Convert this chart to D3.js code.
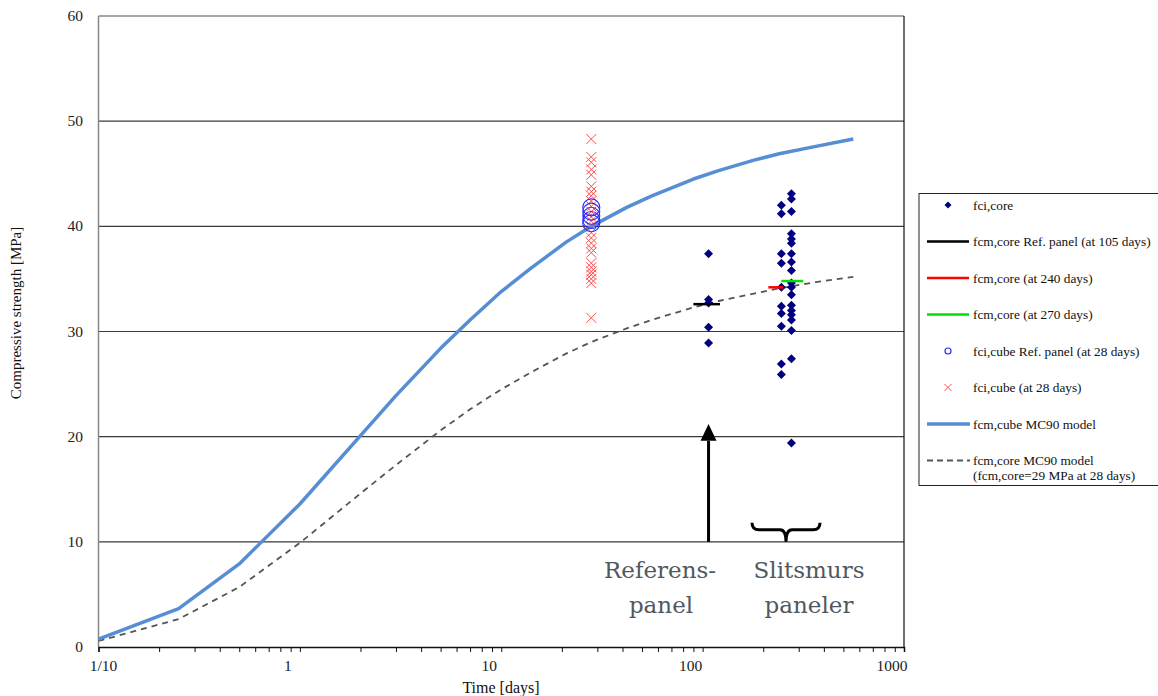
<!DOCTYPE html>
<html>
<head>
<meta charset="utf-8">
<script src="https://cdn.jsdelivr.net/npm/d3@7"></script>
<style>
  body { margin: 0; background: #fff; }
  svg text { font-family: "Liberation Serif", "Times New Roman", serif; }
  svg text.note { font-family: "DejaVu Serif", serif; font-size: 23px; fill: #505860; }
</style>
</head>
<body>
<div id="chart"></div>
<script>
// Model curves
const modelDays = [0.1, 0.25, 0.5, 1, 2, 3, 5, 7, 10, 14, 21, 28, 42, 56, 90, 120, 180, 240, 365, 560];
const cubeModel = [0.75, 3.65, 7.9, 13.6, 20.1, 23.9, 28.4, 31.1, 33.8, 36.0, 38.5, 40.0, 41.8, 42.9, 44.5, 45.3, 46.3, 46.9, 47.6, 48.3];
const coreModel = [0.57, 2.65, 5.7, 9.9, 14.6, 17.3, 20.6, 22.6, 24.5, 26.1, 27.9, 29.0, 30.3, 31.1, 32.3, 32.9, 33.6, 34.1, 34.7, 35.2];

// fci,cube at 28 days
const cubeDay = 28;
const cubeValues = [48.3, 46.6, 46.1, 45.4, 44.9, 43.8, 43.3, 42.9, 42.4, 41.9, 41.4, 40.9, 40.5, 40.0,
  39.4, 38.9, 38.4, 37.9, 37.5, 36.5, 36.1, 35.7, 35.4, 35.0, 34.6, 31.3];
const refCubeValues = [41.8, 41.4, 41.0, 40.6, 40.3];

// fci,core per group
const refCoreDay = 107;
const refCoreValues = [37.4, 33.05, 32.7, 30.4, 28.9];
const core240Day = 246;
const core240Values = [42.0, 41.2, 37.4, 36.5, 34.2, 32.4, 31.7, 30.5, 26.9, 25.9];
const core270Day = 276;
const core270Values = [43.1, 42.6, 41.4, 39.3, 38.8, 38.4, 37.4, 36.6, 35.8, 34.6, 34.2, 33.5,
  32.5, 32.0, 31.6, 31.1, 30.1, 27.4, 19.4];

// mean lines: [from day, to day, value]
const meanRef = [90, 122, 32.6];
const mean240 = [212, 251, 34.2];
const mean270 = [246, 316, 34.8];

const legendLabels = [
  "fci,core",
  "fcm,core Ref. panel (at 105 days)",
  "fcm,core (at 240 days)",
  "fcm,core (at 270 days)",
  "fci,cube Ref. panel (at 28 days)",
  "fci,cube (at 28 days)",
  "fcm,cube MC90 model",
  "fcm,core MC90 model"
];

const W = 1158, H = 696;
const plot = {left: 98.5, top: 16, right: 904, bottom: 647};

const svg = d3.select("#chart").append("svg")
  .attr("width", W).attr("height", H);

const x = d3.scaleLog().domain([0.1, 1000]).range([plot.left, plot.right]);
const y = d3.scaleLinear().domain([0, 60]).range([plot.bottom, plot.top]);

// gridlines
svg.append("g").selectAll("line")
  .data([10, 20, 30, 40, 50])
  .enter().append("line")
  .attr("x1", plot.left).attr("x2", plot.right)
  .attr("y1", d => y(d)).attr("y2", d => y(d))
  .attr("stroke", "#3a3a3a").attr("stroke-width", 1.2);

// frame
svg.append("line").attr("x1", plot.left).attr("x2", plot.right)
  .attr("y1", plot.top).attr("y2", plot.top).attr("stroke", "#888").attr("stroke-width", 1.5);
svg.append("line").attr("x1", plot.left).attr("x2", plot.left)
  .attr("y1", plot.top).attr("y2", plot.bottom).attr("stroke", "#888").attr("stroke-width", 1.5);
svg.append("line").attr("x1", plot.right).attr("x2", plot.right)
  .attr("y1", plot.top).attr("y2", plot.bottom).attr("stroke", "#111").attr("stroke-width", 1.2);

// x axis
const xAxis = d3.axisBottom(x)
  .tickValues(x.ticks())
  .tickSize(5)
  .tickFormat("");
const gx = svg.append("g")
  .attr("transform", "translate(0," + plot.bottom + ")")
  .call(xAxis);
gx.select(".domain").attr("stroke", "#111").attr("stroke-width", 1.5);
gx.selectAll(".tick line").attr("stroke", "#111");

const xLabels = [0.1, 1, 10, 100, 1000];
svg.append("g").selectAll("text")
  .data(xLabels)
  .enter().append("text")
  .attr("x", d => x(d) + (d === 0.1 ? 5 : -12))
  .attr("y", 671)
  .attr("text-anchor", "middle")
  .attr("font-size", 15.5)
  .attr("fill", "#222")
  .text(d => d === 0.1 ? "1/10" : d);

// y tick labels
svg.append("g").selectAll("text")
  .data(d3.range(0, 61, 10))
  .enter().append("text")
  .attr("x", 83)
  .attr("y", d => y(d) + 5)
  .attr("text-anchor", "end")
  .attr("font-size", 15.5)
  .attr("fill", "#222")
  .text(d => d);

svg.append("text")
  .attr("transform", "translate(21,313) rotate(-90)")
  .attr("text-anchor", "middle")
  .attr("font-size", 15)
  .attr("fill", "#111")
  .text("Compressive strength [MPa]");

svg.append("text")
  .attr("x", 501).attr("y", 693)
  .attr("text-anchor", "middle")
  .attr("font-size", 16)
  .attr("fill", "#111")
  .text("Time [days]");

// model curves
const lineGen = d3.line().x(d => x(d[0])).y(d => y(d[1]));
svg.append("path")
  .datum(d3.zip(modelDays, coreModel))
  .attr("d", lineGen)
  .attr("fill", "none")
  .attr("stroke", "#555")
  .attr("stroke-width", 1.8)
  .attr("stroke-dasharray", "6,5");
svg.append("path")
  .datum(d3.zip(modelDays, cubeModel))
  .attr("d", lineGen)
  .attr("fill", "none")
  .attr("stroke", "#558ed5")
  .attr("stroke-width", 3.5)
  .attr("stroke-linejoin", "round");

// fci,cube crosses
const cross = (s) => "M" + (-s) + "," + (-s) + "L" + s + "," + s + "M" + (-s) + "," + s + "L" + s + "," + (-s);
svg.append("g").selectAll("path")
  .data(cubeValues)
  .enter().append("path")
  .attr("transform", d => "translate(" + x(cubeDay) + "," + y(d) + ")")
  .attr("d", cross(5))
  .attr("fill", "none")
  .attr("stroke", "#ff4d4d")
  .attr("stroke-width", 1);

// ref panel cube circles
svg.append("g").selectAll("circle")
  .data(refCubeValues)
  .enter().append("circle")
  .attr("cx", x(cubeDay))
  .attr("cy", d => y(d))
  .attr("r", 8.5)
  .attr("fill", "none")
  .attr("stroke", "#2a2aff")
  .attr("stroke-width", 1.1);

// fci,core diamonds
const diamond = (s) => "M0," + (-s) + "L" + s + ",0L0," + s + "L" + (-s) + ",0Z";
const corePts = refCoreValues.map(v => [refCoreDay, v])
  .concat(core240Values.map(v => [core240Day, v]))
  .concat(core270Values.map(v => [core270Day, v]));
svg.append("g").selectAll("path")
  .data(corePts)
  .enter().append("path")
  .attr("transform", d => "translate(" + x(d[0]) + "," + y(d[1]) + ")")
  .attr("d", diamond(4.5))
  .attr("fill", "#000080");

// mean lines
[[meanRef, "#000"], [mean240, "#ff0000"], [mean270, "#00e000"]].forEach(m => {
  svg.append("line")
    .attr("x1", x(m[0][0])).attr("x2", x(m[0][1]))
    .attr("y1", y(m[0][2])).attr("y2", y(m[0][2]))
    .attr("stroke", m[1]).attr("stroke-width", 2.5);
});

// arrow to reference panel
const ax = x(refCoreDay);
svg.append("line")
  .attr("x1", ax).attr("x2", ax)
  .attr("y1", y(10)).attr("y2", y(19.6))
  .attr("stroke", "#000").attr("stroke-width", 3);
svg.append("path")
  .attr("d", "M" + ax + "," + y(21.2) + "L" + (ax - 8) + "," + y(19.6) + "L" + (ax + 8) + "," + y(19.6) + "Z")
  .attr("fill", "#000");

// brace over slitsmur panels
const bx0 = 752, bx1 = 820, bm = (bx0 + bx1) / 2, by = y(10);
svg.append("path")
  .attr("d", "M" + bx0 + "," + (by - 19) + " Q" + bx0 + "," + (by - 12) + " " + (bx0 + 7) + "," + (by - 12)
    + " L" + (bm - 6) + "," + (by - 12) + " Q" + bm + "," + (by - 12) + " " + bm + "," + by
    + " Q" + bm + "," + (by - 12) + " " + (bm + 6) + "," + (by - 12)
    + " L" + (bx1 - 7) + "," + (by - 12) + " Q" + bx1 + "," + (by - 12) + " " + bx1 + "," + (by - 19))
  .attr("fill", "none").attr("stroke", "#000").attr("stroke-width", 3);

// annotation text
const note = svg.append("g").attr("text-anchor", "middle");
note.append("text").attr("class", "note").attr("x", 660).attr("y", 578).text("Referens-");
note.append("text").attr("class", "note").attr("x", 661).attr("y", 613).text("panel");
note.append("text").attr("class", "note").attr("x", 809).attr("y", 578).text("Slitsmurs");
note.append("text").attr("class", "note").attr("x", 809).attr("y", 613).text("paneler");

// legend
const lg = svg.append("g");
lg.append("rect")
  .attr("x", 919).attr("y", 193.5).attr("width", 250).attr("height", 292)
  .attr("fill", "#fff").attr("stroke", "#222").attr("stroke-width", 1);
const ly = i => 205 + i * 36.5;
const lsx = 948, ltx = 973;
lg.append("path").attr("transform", "translate(" + lsx + "," + ly(0) + ")")
  .attr("d", diamond(3.5)).attr("fill", "#000080");
[["#000", 2.5], ["#ff0000", 2.5], ["#00e000", 2.5]].forEach((s, i) => {
  lg.append("line").attr("x1", 927).attr("x2", 969)
    .attr("y1", ly(i + 1)).attr("y2", ly(i + 1))
    .attr("stroke", s[0]).attr("stroke-width", s[1]);
});
lg.append("circle").attr("cx", lsx).attr("cy", ly(4)).attr("r", 3)
  .attr("fill", "none").attr("stroke", "#2a2aff").attr("stroke-width", 1.2);
lg.append("path").attr("transform", "translate(" + lsx + "," + ly(5) + ")")
  .attr("d", cross(3.5)).attr("fill", "none").attr("stroke", "#ff4d4d").attr("stroke-width", 1);
lg.append("line").attr("x1", 927).attr("x2", 970)
  .attr("y1", ly(6)).attr("y2", ly(6))
  .attr("stroke", "#558ed5").attr("stroke-width", 3.5);
lg.append("line").attr("x1", 927).attr("x2", 970)
  .attr("y1", ly(7)).attr("y2", ly(7))
  .attr("stroke", "#555").attr("stroke-width", 1.8).attr("stroke-dasharray", "6,4");
lg.selectAll("text.lab")
  .data(legendLabels)
  .enter().append("text")
  .attr("class", "lab")
  .attr("x", ltx)
  .attr("y", (d, i) => ly(i) + 4.5)
  .attr("font-size", 13.3)
  .attr("fill", "#111")
  .text(d => d);
lg.append("text")
  .attr("x", ltx).attr("y", ly(7) + 19.5)
  .attr("font-size", 13.3).attr("fill", "#111")
  .text("(fcm,core=29 MPa at 28 days)");
</script>
</body>
</html>
